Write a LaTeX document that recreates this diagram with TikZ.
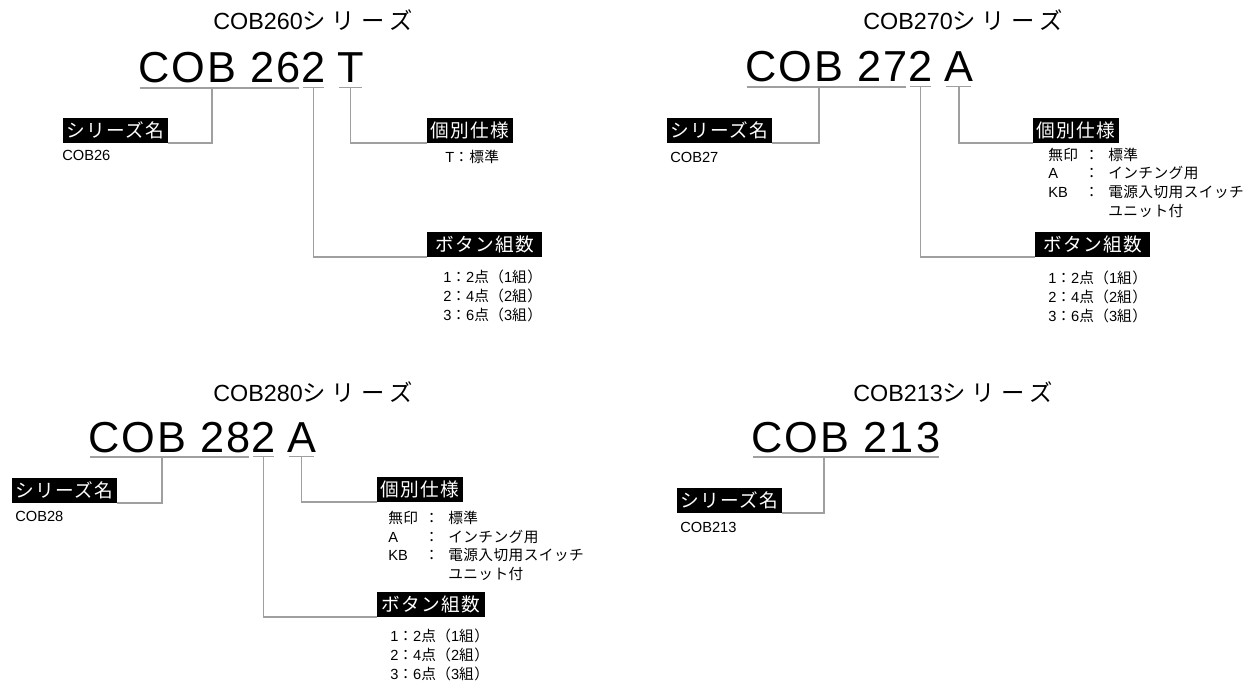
\documentclass[tikz,border=0pt]{standalone}
\usepackage{fontspec}
\setmainfont{Liberation Sans}
\newfontfamily\jp[LetterSpace=3]{Noto Sans CJK JP}
\newfontfamily\jpsp[LetterSpace=25]{Noto Sans CJK JP}
\newfontfamily\jptag[LetterSpace=7]{Noto Sans CJK JP}
\newfontfamily\codefont[LetterSpace=5]{Liberation Sans}
\usepackage{tikz}

\begin{document}
\begin{tikzpicture}[x=0.75pt,y=-0.75pt,
  title/.style={anchor=west,inner sep=0pt,font=\fontsize{17.5}{19}\selectfont},
  code/.style={anchor=base west,inner xsep=0pt,inner ysep=3.3pt,font=\codefont\fontsize{32.5}{36}\selectfont},
  lead/.style={draw=gray!75,line width=1.2pt},
  uline/.style={lead,shorten <=1.5pt,shorten >=1.5pt},
  tag/.style={fill=black,text=white,inner xsep=2.5pt,inner ysep=0pt,minimum height=18.75pt,font=\jptag\fontsize{14}{16}\selectfont},
  note/.style={anchor=west,inner sep=0pt,font=\fontsize{11}{13}\selectfont},
  list/.style={anchor=north west,inner sep=0pt,align=left,font=\fontsize{11}{14}\selectfont}]

\useasboundingbox (0,0) rectangle (1250,681);

% COB260
\node[title] (t1) at (213,20) {COB260{\jpsp シリーズ}};
\node[code] (c1a) at (138,83) {COB 26};
\node[code] (c1b) at (c1a.base east) {2};
\node[code] (c1c) at ([xshift=8.25pt]c1b.base east) {T};
\draw[uline] (c1a.south west) -- (c1a.south east);
\draw[uline] (c1b.south west) -- (c1b.south east);
\draw[uline] (c1c.south west) -- (c1c.south east);
\node[tag,anchor=south east] (s1) at (168,143) {シリーズ名};
\node[note] (s1n) at (62,155) {COB26};
\node[tag,anchor=south west] (k1) at (427,143) {個別仕様};
\node[note] (k1n) at (445,157) {T{\jp ：標準}};
\node[tag,anchor=south west,minimum width=86pt] (b1) at (427,257) {ボタン組数};
\node[list] (b1n) at (443,270) {1{\jp ：}2{\jp 点（}1{\jp 組）}\\2{\jp ：}4{\jp 点（}2{\jp 組）}\\3{\jp ：}6{\jp 点（}3{\jp 組）}};
\draw[lead] (c1a.south west) ++(74,0) |- (s1.south east);
\draw[lead] (c1c.south) |- (k1.south west);
\draw[lead] (c1b.south) |- (b1.south west);

% COB270
\node[title] (t2) at (863,20) {COB270{\jpsp シリーズ}};
\node[code] (c2a) at (745,82) {COB 27};
\node[code] (c2b) at (c2a.base east) {2};
\node[code] (c2c) at ([xshift=8.25pt]c2b.base east) {A};
\draw[uline] (c2a.south west) -- (c2a.south east);
\draw[uline] (c2b.south west) -- (c2b.south east);
\draw[uline] (c2c.south west) -- (c2c.south east);
\node[tag,anchor=south east] (s2) at (772,143) {シリーズ名};
\node[note] (s2n) at (670,157) {COB27};
\node[tag,anchor=south west] (k2) at (1033,143) {個別仕様};
\node[list] (k2n) at (1048,147) {\begin{tabular}{@{}p{27pt}@{}p{18pt}@{}l@{}}
{\jp 無印}&{\jp ：}&{\jp 標準}\\
A&{\jp ：}&{\jp インチング用}\\
KB&{\jp ：}&{\jp 電源入切用スイッチ}\\
&&{\jp ユニット付}
\end{tabular}};
\node[tag,anchor=south west,minimum width=86pt] (b2) at (1035,257) {ボタン組数};
\node[list] (b2n) at (1048,271) {1{\jp ：}2{\jp 点（}1{\jp 組）}\\2{\jp ：}4{\jp 点（}2{\jp 組）}\\3{\jp ：}6{\jp 点（}3{\jp 組）}};
\draw[lead] (c2a.south west) ++(74,0) |- (s2.south east);
\draw[lead] (c2c.south) |- (k2.south west);
\draw[lead] (c2b.south) |- (b2.south west);

% COB280
\node[title] (t3) at (213,392) {COB280{\jpsp シリーズ}};
\node[code] (c3a) at (88,452) {COB 28};
\node[code] (c3b) at (c3a.base east) {2};
\node[code] (c3c) at ([xshift=8.25pt]c3b.base east) {A};
\draw[uline] (c3a.south west) -- (c3a.south east);
\draw[uline] (c3b.south west) -- (c3b.south east);
\draw[uline] (c3c.south west) -- (c3c.south east);
\node[tag,anchor=south east] (s3) at (117,503) {シリーズ名};
\node[note] (s3n) at (15,516) {COB28};
\node[tag,anchor=south west] (k3) at (377,502) {個別仕様};
\node[list] (k3n) at (388,510) {\begin{tabular}{@{}p{27pt}@{}p{18pt}@{}l@{}}
{\jp 無印}&{\jp ：}&{\jp 標準}\\
A&{\jp ：}&{\jp インチング用}\\
KB&{\jp ：}&{\jp 電源入切用スイッチ}\\
&&{\jp ユニット付}
\end{tabular}};
\node[tag,anchor=south west,minimum width=81pt] (b3) at (377,617) {ボタン組数};
\node[list] (b3n) at (390,629) {1{\jp ：}2{\jp 点（}1{\jp 組）}\\2{\jp ：}4{\jp 点（}2{\jp 組）}\\3{\jp ：}6{\jp 点（}3{\jp 組）}};
\draw[lead] (c3a.south west) ++(74,0) |- (s3.south east);
\draw[lead] (c3c.south) |- (k3.south west);
\draw[lead] (c3b.south) |- (b3.south west);

% COB213
\node[title] (t4) at (853,392) {COB213{\jpsp シリーズ}};
\node[code] (c4a) at (751,452) {COB 213};
\draw[uline] (c4a.south west) -- (c4a.south east);
\node[tag,anchor=south east] (s4) at (782,513) {シリーズ名};
\node[note] (s4n) at (680,527) {COB213};
\draw[lead] (c4a.south west) ++(73,0) |- (s4.south east);
\end{tikzpicture}
\end{document}
